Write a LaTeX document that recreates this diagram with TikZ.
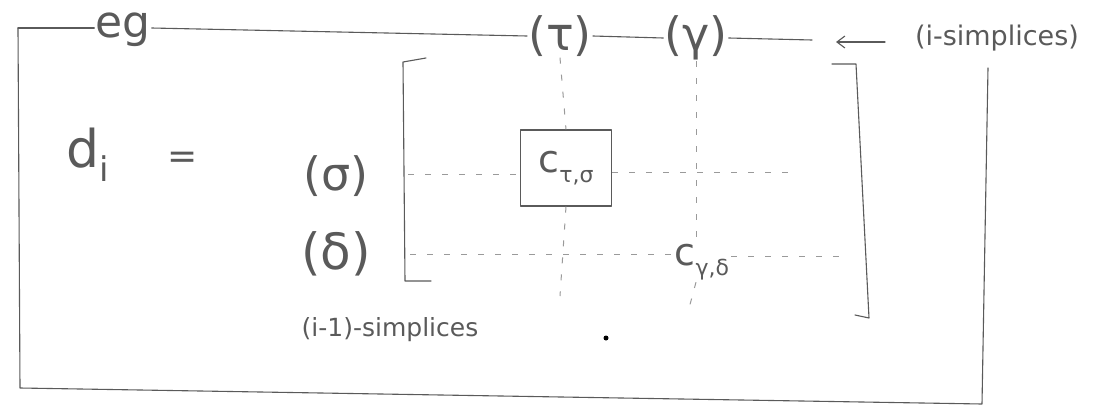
\documentclass[tikz,border=0pt]{standalone}
\usepackage{fontspec}
\setmainfont{DejaVu Sans}
\usetikzlibrary{arrows.meta}
\definecolor{ink}{HTML}{5A5A5A}
\definecolor{faint}{HTML}{9A9A9A}
\tikzset{
  x=1pt, y=-1pt,
  pen/.style={draw=ink, line width=1.1pt, line cap=round, line join=round},
  dashrule/.style={draw=faint, line width=1pt, dash pattern=on 6pt off 11pt},
  lbl/.style={text=ink, inner sep=1pt},
}
\newcommand{\fs}[1]{\fontsize{#1}{#1}\selectfont}
\newcommand{\sbx}[1]{\raisebox{-10pt}{\fs{22}#1}}
\begin{document}
\begin{tikzpicture}
\path[use as bounding box] (0,0) rectangle (1093,410);
\fill[white] (0,0) rectangle (1093,410);

% labels
\node[lbl, font=\fs{44}] (eg) at (123,30) {eg};
\node[lbl, font=\fs{46}] (tau) at (560,36) {(τ)};
\node[lbl, font=\fs{46}] (gamma) at (696,38) {(γ)};
\node[lbl, font=\fs{27}] (isimp) at (997,38) {(i-simplices)};
\node[lbl, font=\fs{52}] (di) at (88,155) {d\raisebox{-14pt}{\fs{34}i}};
\node[lbl, font=\fs{36}] (eq) at (183,160) {=};
\node[lbl, font=\fs{46}] (sigma) at (336,176) {(σ)};
\node[lbl, font=\fs{50}] (delta) at (336,254) {(δ)};
\node[lbl, font=\fs{25}] (imsimp) at (390,330) {(i-1)-simplices};
\node[pen, minimum width=91pt, minimum height=76pt, inner sep=0pt, font=\fs{38}, text=ink] (boxc) at (566,168) {c\sbx{τ,σ}};
\node[lbl, font=\fs{38}, fill=white, inner sep=2pt] (cgd) at (702,262) {c\sbx{γ,δ}};

% frame coordinates
\coordinate (tl) at (18,28);
\coordinate (bl) at (20,388);
\coordinate (br) at (982,404);
\coordinate (tr) at (988,68);
\coordinate (topend) at (812,40);
\coordinate (arrowtail) at (885,42);
\coordinate (arrowhead) at (836,42);

% outer frame
\draw[pen] (tl) -- (eg.west |- tl);
\draw[pen] (eg.east |- 0,28) -- (tau.west);
\draw[pen] (tau.east) -- (gamma.west);
\draw[pen] (gamma.east) -- (topend);
\draw[pen, -{Straight Barb[length=8pt,width=12pt]}] (arrowtail) -- (arrowhead);
\draw[pen] (tl) -- (bl) -- (br) -- (tr);

% bracket
\coordinate (lbt) at (426,58);
\coordinate (lbtc) at (403,62);
\coordinate (lbbc) at (405,281);
\coordinate (lbb) at (431,281);
\draw[pen] (lbt) -- (lbtc) -- (lbbc) -- (lbb);
\coordinate (rbt) at (832,64);
\coordinate (rbtc) at (856,64);
\coordinate (rbbc) at (869,318);
\coordinate (rbb) at (855,315);
\draw[pen] (rbt) -- (rbtc) -- (rbbc) -- (rbb);

% dashed grid
\coordinate (s0) at (408,174);
\coordinate (s1) at (792,172);
\coordinate (d0) at (410,254);
\coordinate (d1) at (846,256);
\coordinate (tauend) at (560,296);
\coordinate (gamend) at (688,312);
\draw[dashrule] (s0) -- (boxc.west |- s0);
\draw[dashrule] (boxc.east |- s1) -- (s1);
\draw[dashrule] (d0) -- (cgd.west |- d0);
\draw[dashrule] (cgd.east |- d1) -- (d1);
\draw[dashrule] (tau.south) -- (boxc.north);
\draw[dashrule] (boxc.south) -- (tauend);
\draw[dashrule] (gamma.south) -- (cgd.north -| gamma.south);
\draw[dashrule] (cgd.south -| gamma.south) -- (gamend);

% dot
\fill[black] (606,338) circle (2.5pt);
\end{tikzpicture}
\end{document}
